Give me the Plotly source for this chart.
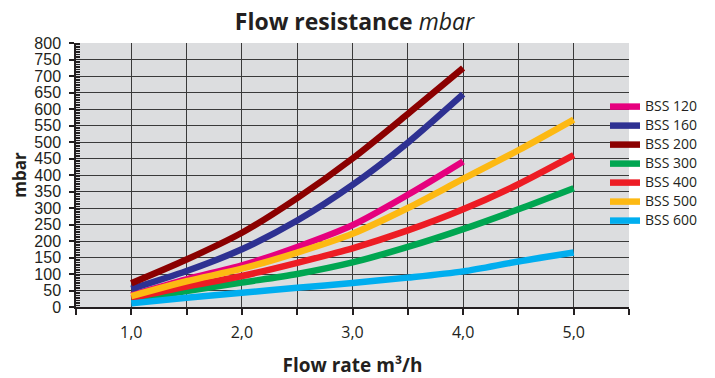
import plotly.graph_objects as go

flow_a = [1.0, 1.5, 2.0, 2.5, 3.0, 3.5, 4.0]
flow_b = [1.0, 1.5, 2.0, 2.5, 3.0, 3.5, 4.0, 4.5, 5.0]

bss120 = [36, 84, 126, 182, 248, 340, 441]
bss160 = [55, 109, 175, 262, 370, 498, 645]
bss200 = [72, 144, 225, 330, 450, 585, 724]
bss300 = [22, 48, 74, 100, 135, 182, 236, 296, 360]
bss400 = [27, 62, 94, 134, 178, 232, 296, 372, 460]
bss500 = [33, 78, 116, 165, 222, 300, 388, 475, 568]
bss600 = [11, 28, 43, 58, 73, 89, 108, 138, 165]

series = [
    ("BSS 120", flow_a, bss120, "#e6007e"),
    ("BSS 160", flow_a, bss160, "#2e3192"),
    ("BSS 200", flow_a, bss200, "#8b0000"),
    ("BSS 300", flow_b, bss300, "#00a651"),
    ("BSS 400", flow_b, bss400, "#ed1c24"),
    ("BSS 500", flow_b, bss500, "#fdb913"),
    ("BSS 600", flow_b, bss600, "#00aeef"),
]

x_tickvals = [0.5, 1.0, 1.5, 2.0, 2.5, 3.0, 3.5, 4.0, 4.5, 5.0, 5.5]
x_ticktext = ["", "1,0", "", "2,0", "", "3,0", "", "4,0", "", "5,0", ""]

fig = go.Figure()
for name, xs, ys, col in series:
    fig.add_trace(go.Scatter(
        x=xs, y=ys, mode="lines",
        name="<span style='font-size:14px'>" + name + "</span>",
        line=dict(color=col, width=6.5, shape="spline", smoothing=0.8),
    ))

fig.update_layout(
    width=707, height=370,
    margin=dict(l=68, r=86, t=35, b=71),
    paper_bgcolor="white",
    plot_bgcolor="#dcdddf",
    showlegend=True,
    title=dict(
        text="<b>Flow resistance</b> <i>mbar</i>",
        font=dict(family="Open Sans", size=23, color="#231f20"),
        x=0.49, xanchor="center", y=0.962, yanchor="middle",
        automargin=False,
    ),
    legend=dict(
        x=0.9566, y=0.814, xanchor="left", yanchor="top",
        font=dict(family="Open Sans", size=11, color="#231f20"),
        bgcolor="rgba(0,0,0,0)", borderwidth=0,
        tracegroupgap=0, itemwidth=30,
    ),
    xaxis=dict(
        range=[0.5, 5.5], automargin=False,
        tickvals=x_tickvals, ticktext=x_ticktext,
        ticks="outside", ticklen=6, tickwidth=1.5, tickcolor="#231f20",
        showline=True, linecolor="#231f20", linewidth=1.5,
        showgrid=True, gridcolor="#3a3a3a", gridwidth=1,
        zeroline=False,
        tickfont=dict(family="Open Sans", size=16, color="#231f20"),
        ticklabelstandoff=4,
        title=dict(text="<b>Flow rate m³/h</b>",
                   font=dict(family="Open Sans", size=19, color="#231f20"),
                   standoff=19),
    ),
    yaxis=dict(
        range=[0, 800], automargin=False,
        tickmode="linear", tick0=0, dtick=50,
        ticks="outside", ticklen=5, tickwidth=1.5, tickcolor="#231f20",
        showline=True, linecolor="#231f20", linewidth=1.5,
        showgrid=True, gridcolor="#3a3a3a", gridwidth=1,
        zeroline=False,
        tickfont=dict(family="Liberation Sans", size=16, color="#231f20"),
        ticklabelstandoff=5,
        minor=dict(dtick=5, ticks="inside", ticklen=4, tickcolor="#231f20",
                   tickwidth=1, showgrid=False),
        title=dict(text="<b>mbar</b>",
                   font=dict(family="Open Sans", size=17, color="#231f20"),
                   standoff=6),
    ),
)

fig.write_html("out.html")
